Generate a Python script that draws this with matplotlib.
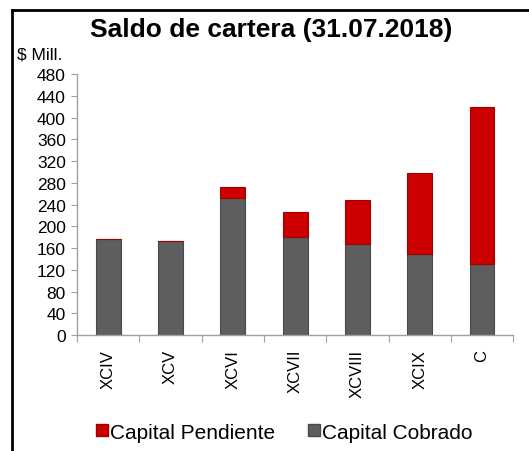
import matplotlib.pyplot as plt
from matplotlib.lines import Line2D
from matplotlib.patches import Patch
import numpy as np

plt.rcParams['font.family'] = ['Liberation Sans', 'DejaVu Sans']

# Datos ($ Mill.)
series = ['XCIV', 'XCV', 'XCVI', 'XCVII', 'XCVIII', 'XCIX', 'C']
capital_cobrado = [177, 172, 252, 180, 167, 149, 130]
capital_pendiente = [-1, -1, 20, 47, 81, 149, 289]
yticks = list(range(0, 481, 40))

GRAY = '#5e5e5e'
RED = '#cc0000'

fig = plt.figure(figsize=(5.29, 4.52), dpi=100)
ax = fig.add_axes([0.1456, 0.2566, 0.8244, 0.5774])

x = np.arange(len(series))
ax.bar(x, capital_cobrado, width=0.4, color=GRAY, edgecolor='#4a4a4a', linewidth=0.8, zorder=2)
pend_pos = [max(v, 0) for v in capital_pendiente]
pend_neg = [min(v, 0) for v in capital_pendiente]
ax.bar(x, pend_pos, width=0.4, bottom=capital_cobrado, color=RED,
       edgecolor='#a00000', linewidth=0.8, zorder=2)
ax.bar(x, pend_neg, width=0.4, color=RED, edgecolor=RED, linewidth=0.8, zorder=1)

ax.set_xlim(-0.5, len(series) - 0.5)
ax.set_ylim(0, 480)
ax.set_yticks(yticks)
ax.set_yticklabels([str(t) for t in yticks], fontsize=12.5)

# ticks de categorias en los bordes, etiquetas centradas
ax.set_xticks(np.arange(len(series) + 1) - 0.5)
ax.set_xticklabels([])
ax.set_xticks(x, minor=True)
ax.set_xticklabels(series, minor=True, rotation=90, fontsize=12, va='top')
ax.tick_params(axis='x', which='minor', length=0, pad=10)
ax.tick_params(axis='x', which='major', length=5, color='#a0a0a0', direction='out')
ax.tick_params(axis='y', length=4, color='#a0a0a0', direction='out', pad=4)

for side in ['top', 'right']:
    ax.spines[side].set_visible(False)
for side in ['left', 'bottom']:
    ax.spines[side].set_color('#a0a0a0')
    ax.spines[side].set_linewidth(1.0)

fig.text(0.512, 0.933, 'Saldo de cartera (31.07.2018)', ha='center', va='center',
         fontsize=19, fontweight='bold')
fig.text(0.032, 0.878, '$ Mill.', ha='left', va='center', fontsize=12.5)

handles = [Patch(facecolor=RED, edgecolor='#a00000'), Patch(facecolor=GRAY, edgecolor='#4a4a4a')]
fig.legend(handles, ['Capital Pendiente', 'Capital Cobrado'], loc='center',
           bbox_to_anchor=(0.537, 0.042), ncol=2, frameon=False, fontsize=15,
           handlelength=0.55, handleheight=0.55, handletextpad=0.1, columnspacing=1.6)

# marco del grafico
fig.add_artist(Line2D([11.5 / 529, 11.5 / 529], [0, 1 - 10.5 / 452], color='black', lw=2))
fig.add_artist(Line2D([11.5 / 529, 1], [1 - 10.5 / 452, 1 - 10.5 / 452], color='black', lw=2))

fig.savefig('out.png', dpi=100)
